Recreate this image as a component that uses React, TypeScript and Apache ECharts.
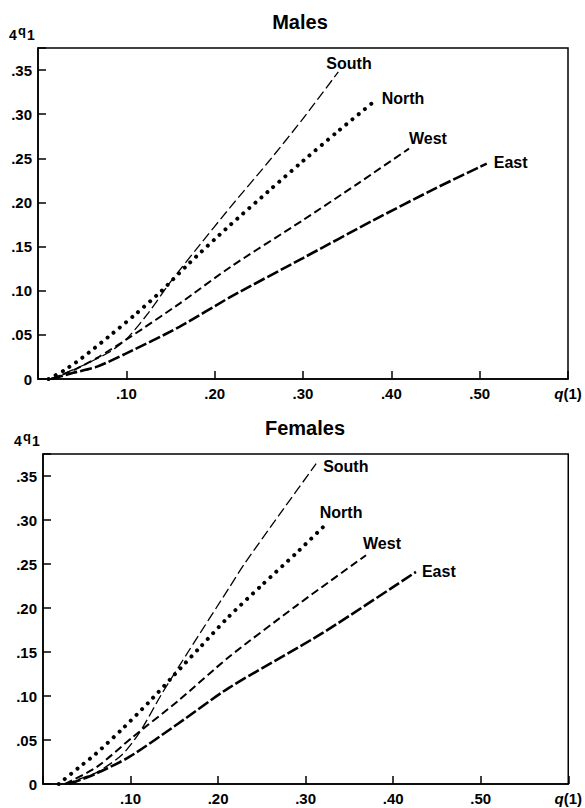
import React, { useEffect, useRef } from "react";
import * as echarts from "echarts";

// ---- Data (x = q(1), y = 4q1) ----
const regions = ["South", "North", "West", "East"];

const southMales: [number, number][] = [
  [0.015, 0.0], [0.05, 0.015], [0.08, 0.03], [0.1, 0.045], [0.125, 0.075], [0.15, 0.11],
  [0.18, 0.148], [0.218, 0.195], [0.26, 0.245], [0.3, 0.295], [0.34, 0.348],
];
const northMales: [number, number][] = [
  [0.012, 0.0], [0.03, 0.01], [0.05, 0.024], [0.08, 0.048], [0.11, 0.073], [0.14, 0.1],
  [0.17, 0.13], [0.216, 0.173], [0.26, 0.212], [0.3, 0.247], [0.34, 0.281], [0.38, 0.314],
];
const westMales: [number, number][] = [
  [0.015, 0.0], [0.04, 0.01], [0.067, 0.024], [0.105, 0.048], [0.161, 0.086], [0.218, 0.127],
  [0.3, 0.18], [0.36, 0.22], [0.42, 0.261],
];
const eastMales: [number, number][] = [
  [0.015, 0.0], [0.04, 0.007], [0.067, 0.014], [0.1, 0.029], [0.16, 0.059], [0.218, 0.093],
  [0.3, 0.137], [0.38, 0.18], [0.45, 0.216], [0.508, 0.244],
];

const southFemales: [number, number][] = [
  [0.025, 0.0], [0.061, 0.013], [0.09, 0.033], [0.11, 0.058], [0.136, 0.103], [0.167, 0.152],
  [0.212, 0.222], [0.23, 0.25], [0.27, 0.306], [0.312, 0.364],
];
const northFemales: [number, number][] = [
  [0.018, 0.0], [0.04, 0.018], [0.06, 0.034], [0.09, 0.062], [0.12, 0.092], [0.15, 0.124],
  [0.18, 0.156], [0.212, 0.19], [0.25, 0.226], [0.29, 0.263], [0.323, 0.295],
];
const westFemales: [number, number][] = [
  [0.025, 0.0], [0.061, 0.019], [0.102, 0.053], [0.155, 0.095], [0.212, 0.144], [0.29, 0.203],
  [0.369, 0.26],
];
const eastFemales: [number, number][] = [
  [0.03, 0.0], [0.061, 0.012], [0.099, 0.031], [0.155, 0.069], [0.212, 0.109], [0.32, 0.172],
  [0.426, 0.241],
];

const panelTitles = ["Males", "Females"];

// ---- Styles ----
const FONT = "'Liberation Sans', Arial, Helvetica, sans-serif";
const INK = "#000";
const lineStyles: any[] = [
  { width: 1.3, type: [10, 4] },
  { width: 4, type: [0.01, 8], cap: "round" },
  { width: 2, type: [8, 4] },
  { width: 2.6, type: [12, 3] },
];
const labelOffsets: [number, number][][] = [
  [[-12, -8], [8, -3], [0, -10], [7, -1]],
  [[7, 3], [-6, -12], [-3, -12], [6, 0]],
];

const fmtX = (v: number) => {
  const k = Math.round(v * 100);
  if (k === 0) return "";
  if (k >= 60) return "{q|q}(1)";
  return "." + String(k).padStart(2, "0");
};
const fmtY = (v: number) => {
  const k = Math.round(v * 1000);
  if (k === 0) return "0";
  if (k > 360) return "";
  return "." + String(Math.round(v * 100)).padStart(2, "0");
};

export default function App() {
  const ref = useRef<HTMLDivElement>(null);
  useEffect(() => {
    if (!ref.current) return;
    const chart = echarts.init(ref.current, undefined, { renderer: "svg" });
    const panels = [
      [southMales, northMales, westMales, eastMales],
      [southFemales, northFemales, westFemales, eastFemales],
    ];
    const grids = [
      { left: 38, top: 48, width: 530, height: 331 },
      { left: 43, top: 454, width: 530, height: 330 },
    ];
    const axisText = { color: INK, fontFamily: FONT, fontWeight: "bold" as const, fontSize: 15 };
    const series: any[] = [];
    panels.forEach((sets, p) => {
      sets.forEach((d, i) => {
        series.push({
          type: "line",
          xAxisIndex: p,
          yAxisIndex: p,
          data: d,
          showSymbol: false,
          smooth: 0.25,
          lineStyle: { color: INK, ...lineStyles[i] },
          silent: true,
        });
      });
      series.push({
        type: "scatter",
        xAxisIndex: p,
        yAxisIndex: p,
        symbolSize: 0,
        silent: true,
        itemStyle: { color: INK, opacity: 1 },
        data: sets.map((d, i) => ({
          value: d[d.length - 1],
          label: {
            show: true,
            formatter: regions[i],
            position: "right",
            distance: 0,
            align: "left",
            verticalAlign: "middle",
            offset: labelOffsets[p][i],
            color: INK,
            opacity: 1,
            textBorderWidth: 0,
            textShadowBlur: 0,
            fontFamily: FONT,
            fontWeight: "bold",
            fontSize: 16,
          },
        })),
      });
    });

    const graphics: any[] = [];
    grids.forEach((g, p) => {
      graphics.push({
        type: "text",
        x: g.left + g.width / 2 - 3,
        y: g.top - 26,
        style: { text: panelTitles[p], fill: INK, font: `bold 20px ${FONT}`, textAlign: "center", textVerticalAlign: "middle" },
      });
      const bx = g.left - 29;
      const by = g.top - 6;
      graphics.push({ type: "text", x: bx, y: by, style: { text: "4", fill: INK, font: `bold 14px ${FONT}`, textVerticalAlign: "bottom" } });
      graphics.push({ type: "text", x: bx + 9, y: by - 5, style: { text: "q", fill: INK, font: `bold 13px ${FONT}`, textVerticalAlign: "bottom" } });
      graphics.push({ type: "text", x: bx + 18, y: by, style: { text: "1", fill: INK, font: `bold 14px ${FONT}`, textVerticalAlign: "bottom" } });
    });

    chart.setOption({
      animation: false,
      backgroundColor: "#fff",
      grid: grids.map((g) => ({ ...g, show: true, borderColor: INK, borderWidth: 1.5, backgroundColor: "transparent" })),
      xAxis: grids.map((_, p) => ({
        type: "value",
        gridIndex: p,
        min: 0,
        max: 0.6,
        interval: 0.1,
        splitLine: { show: false },
        axisLine: { show: true, lineStyle: { color: INK, width: 1.5 } },
        axisTick: { show: true, inside: true, length: 8, lineStyle: { color: INK, width: 1.5 } },
        axisLabel: {
          ...axisText,
          margin: 7,
          formatter: fmtX,
          rich: { q: { ...axisText, fontStyle: "italic" } },
        },
      })),
      yAxis: grids.map((_, p) => ({
        type: "value",
        gridIndex: p,
        min: 0,
        max: 0.375,
        interval: 0.05,
        splitLine: { show: false },
        axisLine: { show: true, lineStyle: { color: INK, width: 1.5 } },
        axisTick: { show: true, inside: true, length: 8, lineStyle: { color: INK, width: 1.5 } },
        axisLabel: { ...axisText, margin: 6, formatter: fmtY },
      })),
      graphic: graphics,
      series,
    });
    return () => chart.dispose();
  }, []);
  return (
    <div
      ref={ref}
      style={{ position: "absolute", left: 0, top: 0, width: 585, height: 808, background: "#fff" }}
    />
  );
}
